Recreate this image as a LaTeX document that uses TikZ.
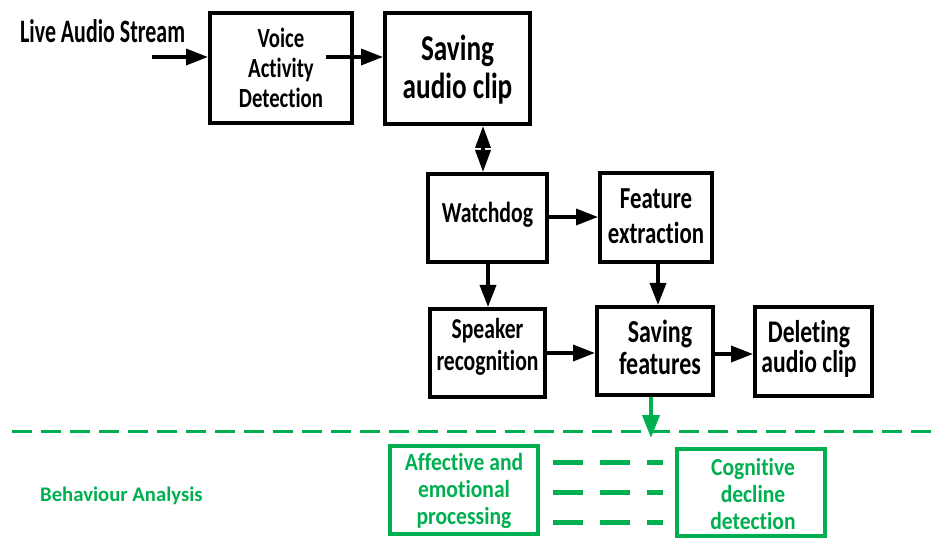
\documentclass[tikz,border=0pt]{standalone}
\usepackage{fontspec}
\defaultfontfeatures{Ligatures={NoCommon,NoContextual,NoRare}, Contextuals=NoAlternate}
\setmainfont{Carlito}
\newfontfamily\fA{Carlito}[FakeStretch=0.67]
\newfontfamily\fB{Carlito}[FakeStretch=0.75]
\newfontfamily\fC{Carlito}[FakeStretch=0.88]
\usetikzlibrary{arrows.meta}
\definecolor{grn}{HTML}{00B050}
\begin{document}
\begin{tikzpicture}[x=1pt,y=-1pt,
  box/.style={draw, line width=4pt, inner sep=0pt},
  gbox/.style={draw=grn, line width=4pt, inner sep=0pt},
  arr/.style={line width=3.5pt, -{Triangle[length=22pt,width=16pt]}},
  darr/.style={line width=3.5pt, {Triangle[length=22pt,width=15pt]}-{Triangle[length=22pt,width=15pt]}},
  garr/.style={draw=grn, line width=4pt, -{Triangle[length=23pt,width=17pt]}},
  gdash/.style={draw=grn, line width=5pt, dash pattern=on 30pt off 17pt},
  btxt/.style={align=center, inner sep=0pt},
  gtxt/.style={align=center, inner sep=0pt, text=grn, font=\fC\bfseries\fontsize{24.5}{27}\selectfont}]
\useasboundingbox[fill=white] (0,0) rectangle (940,553);

% boxes
\node[box, minimum width=142pt, minimum height=110pt] (vad) at (281,68) {};
\node[box, minimum width=145pt, minimum height=111pt] (sac) at (457.5,68.5) {};
\node[box, minimum width=119pt, minimum height=88pt] (wd) at (487.5,218) {};
\node[box, minimum width=112pt, minimum height=89pt] (fe) at (656,217.5) {};
\node[box, minimum width=115pt, minimum height=88pt] (sp) at (487.5,353) {};
\node[box, minimum width=116pt, minimum height=88pt] (sf) at (655,351) {};
\node[box, minimum width=117pt, minimum height=89pt] (del) at (813.5,351.5) {};
\node[gbox, minimum width=148pt, minimum height=88pt] (aff) at (464,490) {};
\node[gbox, minimum width=148pt, minimum height=87pt] (cog) at (751,492.5) {};

% texts
\node[anchor=base west, inner sep=0pt, font=\fA\bfseries\fontsize{32.7}{36}\selectfont] (las) at (20,43) {Live Audio Stream};
\node[btxt, font=\fB\bfseries\fontsize{27.7}{30}\selectfont] (vadt) at (281,68) {Voice\\Activity\\Detection};
\node[btxt, font=\fB\bfseries\fontsize{36.3}{38}\selectfont] (sact) at (457.5,70) {Saving\\audio clip};
\node[btxt, font=\fB\bfseries\fontsize{29}{30}\selectfont] (wdt) at (487.5,215) {Watchdog};
\node[btxt, font=\fB\bfseries\fontsize{30.5}{35}\selectfont] (fet) at (656,216) {Feature\\extraction};
\node[btxt, font=\fB\bfseries\fontsize{28.8}{32}\selectfont] (spt) at (487.5,347) {Speaker\\recognition};
\node[btxt, font=\fB\bfseries\fontsize{32}{32}\selectfont] (sft) at (660,347) {Saving\\features};
\node[btxt, font=\fB\bfseries\fontsize{31.5}{30}\selectfont] (delt) at (809,349) {Deleting\\audio clip};
\node[gtxt] (afft) at (464,491) {Affective and\\emotional\\processing};
\node[gtxt] (cogt) at (753,494) {Cognitive\\decline\\detection};
\node[anchor=base west, inner sep=0pt, text=grn, font=\bfseries\fontsize{20.7}{24}\selectfont] (ba) at (40,501) {Behaviour Analysis};

% black connectors
\coordinate (in) at (152,57);
\coordinate (va) at (326,57);
\draw[arr] (in) -- (in -| vad.west);
\draw[arr] (va) -- (va -| sac.west);
\draw[darr] (sac.south -| 483,0) -- (wd.north -| 483,0);
\draw[arr] (wd.east |- 0,217) -- (fe.west |- 0,217);
\draw[arr] (wd.south -| 488,0) -- (sp.north -| 488,0);
\draw[arr] (fe.south -| 658,0) -- (sf.north -| 658,0);
\draw[arr] (sp.east) -- (sp.east -| sf.west);
\draw[arr] (sf.east |- 0,354) -- (del.west |- 0,354);

% green
\coordinate (dl) at (12,431);
\coordinate (dr) at (940,431);
\draw[grn, line width=3pt, dash pattern=on 20pt off 9pt] (dl) -- (dr);
\coordinate (gtip) at (651,438);
\draw[garr] (sf.south -| gtip) -- (gtip);
\foreach \yy/\nm in {462/a, 492/b, 522/c}{
  \coordinate (d\nm l) at (553,\yy);
  \coordinate (d\nm r) at (663,\yy);
  \draw[gdash] (d\nm l) -- (d\nm r);
}
\end{tikzpicture}
\end{document}
